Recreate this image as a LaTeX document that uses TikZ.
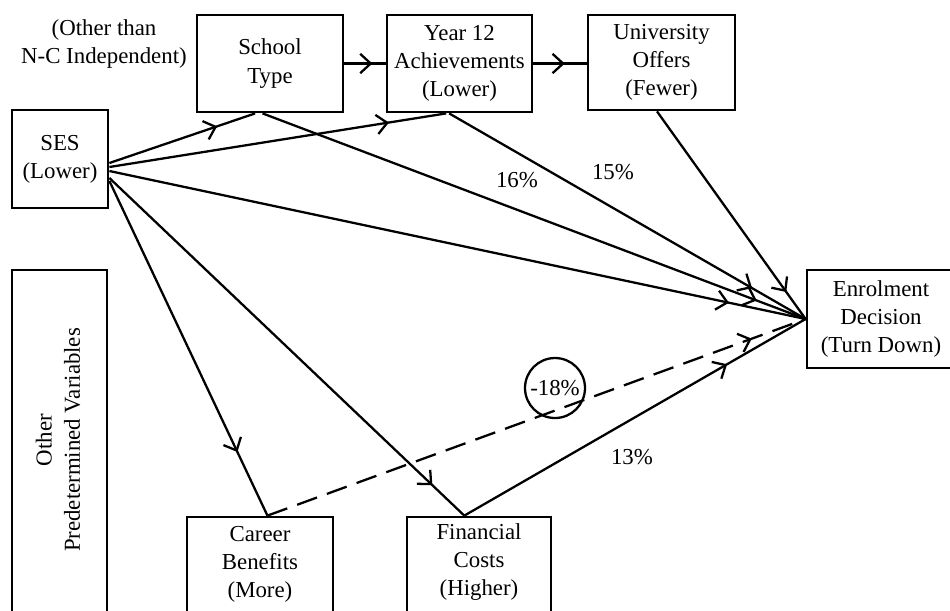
\documentclass[tikz,border=0pt]{standalone}
\usepackage{fontspec}
\setmainfont{Liberation Serif}
\usetikzlibrary{arrows.meta,decorations.markings,calc}

\tikzset{
  box/.style={draw, line width=1.6pt, inner sep=0pt, align=center,
    font=\fontsize{13}{16}\selectfont},
  boxtext/.style={inner sep=0pt, align=center, font=\fontsize{13}{16}\selectfont},
  pct/.style={inner sep=0pt, font=\fontsize{13}{16}\selectfont},
  flow/.style={line width=1.3pt,
    postaction={decorate, decoration={markings,
      mark=at position #1 with {\arrow{Straight Barb[length=6pt,width=11pt]}}}}},
  dashflow/.style={flow=#1, dash pattern=on 12pt off 6pt},
}

\begin{document}
\begin{tikzpicture}[x=0.02cm, y=-0.02cm]
  \useasboundingbox (0,0) rectangle (950,610);
  \clip (0,0) rectangle (950,610);

  % upper row of boxes
  \node[box, minimum width=2.92cm, minimum height=1.94cm] (school) at (270,63.5) {School\\Type};
  \node[box, minimum width=2.90cm, minimum height=1.94cm] (year) at (459.5,63.5) {Year 12\\Achievements\\(Lower)};
  \node[box, minimum width=2.94cm, minimum height=1.90cm] (univ) at (661.5,62.5) {University\\Offers\\(Fewer)};
  \node[boxtext] (note) at (104,44) {(Other than\\N-C Independent)};

  % left column
  \node[box, minimum width=1.92cm, minimum height=1.96cm] (ses) at (60,159) {SES\\(Lower)};
  \node[box, minimum width=1.90cm, minimum height=7cm] (other) at (59.5,445) {};
  \node[boxtext, rotate=90] (othertext) at (58,440) {Other\\Predetermined Variables};

  % outcome
  \node[box, minimum width=2.96cm, minimum height=1.96cm] (enrol) at (881,319) {Enrolment\\Decision\\(Turn Down)};

  % lower row (boxes run past the bottom edge)
  \node[box, minimum width=2.92cm, minimum height=2.06cm] (career) at (260,568.5) {};
  \node[boxtext] (careertext) at (260,564) {Career\\Benefits\\(More)};
  \node[box, minimum width=2.88cm, minimum height=2.06cm] (fin) at (479,568.5) {};
  \node[boxtext] (fintext) at (479,562) {Financial\\Costs\\(Higher)};

  % points where the paths meet the boxes
  \coordinate (schoolin)  at ($(school.south west)!0.40!(school.south east)$);
  \coordinate (schoolout) at ($(school.south west)!0.45!(school.south east)$);
  \coordinate (yearin)    at ($(year.south west)!0.41!(year.south east)$);
  \coordinate (yearout)   at ($(year.south west)!0.43!(year.south east)$);
  \coordinate (univout)   at ($(univ.south west)!0.47!(univ.south east)$);
  \coordinate (careertop) at ($(career.north west)!0.55!(career.north east)$);
  \coordinate (fintop)    at ($(fin.north west)!0.40!(fin.north east)$);

  % paths out of SES
  \draw[flow=0.74] ($(ses.east)+(0,4)$)  -- (schoolin);
  \draw[flow=0.83] ($(ses.east)+(0,8)$)  -- (yearin);
  \draw[flow=0.89] ($(ses.east)+(0,12)$) -- (enrol.west);
  \draw[flow=0.81] ($(ses.east)+(0,22)$) -- (careertop);
  \draw[flow=0.91] ($(ses.east)+(0,19)$) -- (fintop);

  % chain along the top
  \draw[flow=0.68] (school.east) -- (year.west);
  \draw[flow=0.59] (year.east) -- (year.east -| univ.west);

  % paths into the enrolment decision
  \draw[flow=0.91] (schoolout) -- (enrol.west);
  \draw[flow=0.85] (yearout) -- (enrol.west);
  \draw[flow=0.87] (univout) -- (enrol.west);
  \draw[flow=0.77] (fintop) -- (enrol.west);
  \draw[dashflow=0.90] (careertop) -- (enrol.west);

  % path coefficients
  \node[pct] (p16) at (517,180) {16\%};
  \node[pct] (p15) at (613,172) {15\%};
  \node[pct] (p13) at (632,457) {13\%};
  \node[pct, draw, circle, line width=1.3pt, minimum size=1.2cm] (p18) at (555,388) {-18\%};
\end{tikzpicture}
\end{document}
